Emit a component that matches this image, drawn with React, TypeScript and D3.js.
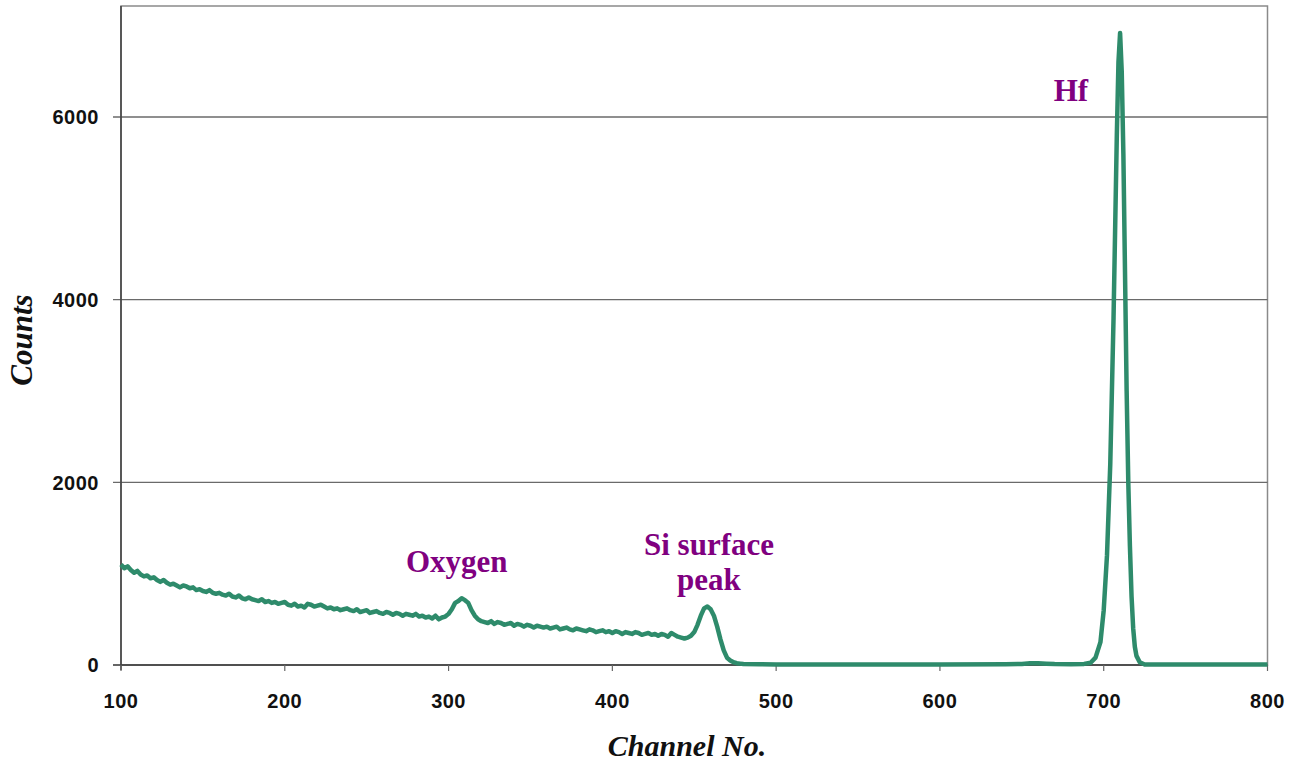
import React from "react";
import * as d3 from "d3";

const W = 1306;
const H = 765;

// Background spectrum, channels 100..478 step 2
const bgStart = 100;
const bgStep = 2;
const bgCounts = [
  1100, 1060, 1080, 1040, 1010, 1030, 990, 970, 980, 950,
  960, 930, 910, 930, 900, 880, 890, 870, 850, 870,
  860, 840, 850, 820, 830, 810, 800, 820, 790, 780,
  790, 770, 760, 780, 750, 740, 760, 730, 720, 740,
  720, 710, 700, 720, 690, 700, 680, 690, 670, 680,
  690, 660, 650, 670, 640, 650, 630, 670, 660, 640,
  650, 660, 640, 620, 630, 610, 620, 600, 610, 620,
  600, 590, 610, 580, 590, 600, 570, 580, 590, 570,
  560, 580, 570, 550, 570, 560, 540, 560, 550, 540,
  560, 530, 540, 520, 530, 510, 540, 500, 520, 530,
  560, 610, 680, 700, 730, 710, 680, 600, 540, 500,
  480, 470, 460, 480, 450, 470, 460, 440, 450, 460,
  430, 450, 440, 420, 440, 430, 410, 430, 420, 410,
  420, 400, 410, 420, 390, 400, 410, 390, 380, 400,
  390, 380, 370, 390, 380, 360, 370, 380, 360, 370,
  350, 370, 360, 340, 360, 350, 340, 360, 350, 330,
  340, 350, 330, 340, 320, 340, 330, 310, 350, 330,
  310, 300, 290, 300, 320, 360, 440, 540, 620, 640,
  610, 540, 420, 280, 160, 80, 50, 30, 20, 15,
];

// Tail and Hf peak
const tailChannels = [480, 490, 500, 550, 600, 640, 650, 655, 660, 665, 670, 680, 688, 692, 695, 698, 700, 702, 704, 706, 708, 709, 710, 711, 712, 713, 714, 715, 716, 717, 718, 719, 720, 722, 725, 740, 800];
const tailCounts = [10, 8, 5, 5, 6, 8, 12, 18, 20, 15, 10, 8, 12, 25, 80, 250, 600, 1200, 2200, 3800, 5800, 6600, 6920, 6500, 5600, 4300, 3000, 2000, 1300, 750, 400, 200, 100, 30, 5, 5, 5];

const xTicks = [100, 200, 300, 400, 500, 600, 700, 800];
const yTicks = [0, 2000, 4000, 6000];

const annotations = [
  { lines: ["Oxygen"], ch: 305, counts: 1020 },
  { lines: ["Si surface", "peak"], ch: 459, counts: 1200 },
  { lines: ["Hf"], ch: 680, counts: 6180 },
];

export default function App() {
  const left = 121, right = 1267.5, top = 6, bottom = 665;
  const x = d3.scaleLinear().domain([100, 800]).range([left, right]);
  const y = d3.scaleLinear().domain([0, 6000]).range([bottom, 117]);

  const pts: [number, number][] = [];
  bgCounts.forEach((c, i) => pts.push([bgStart + i * bgStep, c]));
  tailChannels.forEach((ch, i) => pts.push([ch, tailCounts[i]]));

  const line = d3
    .line<[number, number]>()
    .x((d) => x(d[0]))
    .y((d) => y(d[1]))
    .curve(d3.curveLinear);

  const tickFont = "'Liberation Sans', Arial, sans-serif";
  const serif = "'Liberation Serif', 'Times New Roman', serif";

  return (
    <svg
      width={W}
      height={H}
      style={{ position: "absolute", left: 0, top: 0, background: "#fff" }}
    >
      {/* border */}
      <rect x={left} y={top} width={right - left} height={bottom - top} fill="none" stroke="#8a8a8a" strokeWidth={1.5} />
      {/* gridlines */}
      {yTicks.filter((t) => t > 0).map((t) => (
        <line key={t} x1={left - 8} x2={right} y1={y(t)} y2={y(t)} stroke="#6a6a6a" strokeWidth={1.3} />
      ))}
      {/* axes */}
      <line x1={left - 8} x2={right} y1={bottom} y2={bottom} stroke="#333" strokeWidth={1.6} />
      <line x1={left} x2={left} y1={top} y2={bottom + 5} stroke="#444" strokeWidth={1.6} />
      {xTicks.map((t) => (
        <line key={t} x1={x(t)} x2={x(t)} y1={bottom} y2={bottom + 6} stroke="#666" strokeWidth={1.2} />
      ))}
      {/* tick labels */}
      {yTicks.map((t) => (
        <text key={t} x={99} y={y(t)} dy="0.36em" textAnchor="end" fontFamily={tickFont} fontWeight="bold" fontSize={20} letterSpacing={0.5} fill="#111">
          {t}
        </text>
      ))}
      {xTicks.map((t) => (
        <text key={t} x={x(t)} y={708} textAnchor="middle" fontFamily={tickFont} fontWeight="bold" fontSize={20} letterSpacing={0.5} fill="#111">
          {t}
        </text>
      ))}
      {/* axis titles */}
      <text transform={`translate(32,340) rotate(-90)`} textAnchor="middle" fontFamily={serif} fontStyle="italic" fontWeight="bold" fontSize={31} fill="#111">
        Counts
      </text>
      <text x={687} y={756} textAnchor="middle" fontFamily={serif} fontStyle="italic" fontWeight="bold" fontSize={30} fill="#111">
        Channel  No.
      </text>
      {/* data line */}
      <path d={line(pts) || ""} fill="none" stroke="#2e8b6b" strokeWidth={4.5} strokeLinejoin="round" />
      {/* annotations */}
      {annotations.map((a, i) => (
        <text key={i} x={x(a.ch)} y={y(a.counts)} textAnchor="middle" fontFamily={serif} fontWeight="bold" fontSize={31} fill="#800080">
          {a.lines.map((l, j) => (
            <tspan key={j} x={x(a.ch)} dy={j === 0 ? 0 : 35}>
              {l}
            </tspan>
          ))}
        </text>
      ))}
    </svg>
  );
}
